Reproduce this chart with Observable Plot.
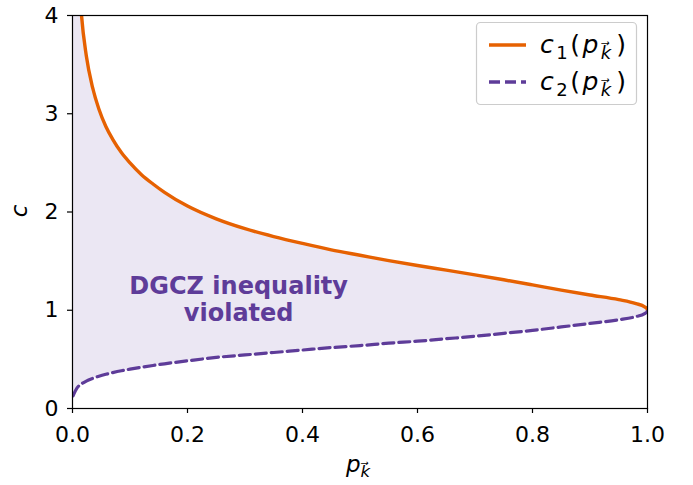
<!DOCTYPE html>
<html><head><meta charset="utf-8">
<script src="https://cdn.jsdelivr.net/npm/d3@7"></script>
<script src="https://cdn.jsdelivr.net/npm/@observablehq/plot@0.6"></script>
<style>
body{margin:0;background:#fff}
svg{font-family:"DejaVu Sans",sans-serif}
</style>
</head><body><div id="chart"></div>
<script>
// Values
const pValues  = [0.001, 0.008, 0.0157, 0.024, 0.035, 0.046, 0.058, 0.07, 0.085, 0.1, 0.12, 0.14, 0.16, 0.2, 0.25, 0.3, 0.35, 0.4, 0.45, 0.5, 0.55, 0.6, 0.65, 0.7, 0.75, 0.8, 0.85, 0.9, 0.95, 0.98, 0.995, 0.999, 1.0];
const c1Values = [8.0, 4.75, 4.0, 3.59, 3.265, 3.045, 2.87, 2.74, 2.605, 2.5, 2.38, 2.285, 2.2, 2.06, 1.93, 1.83, 1.75, 1.68, 1.615, 1.56, 1.505, 1.455, 1.408, 1.36, 1.31, 1.258, 1.205, 1.155, 1.108, 1.068, 1.035, 1.016, 1.0];
const c2Values = [0.13, 0.21, 0.25, 0.279, 0.306, 0.328, 0.348, 0.365, 0.384, 0.4, 0.42, 0.438, 0.455, 0.485, 0.52, 0.545, 0.57, 0.595, 0.62, 0.64, 0.665, 0.685, 0.71, 0.735, 0.765, 0.795, 0.83, 0.866, 0.903, 0.936, 0.966, 0.984, 1.0];
const xTicks = [0, 0.2, 0.4, 0.6, 0.8, 1.0];
const yTicks = [0, 1, 2, 3, 4];
const regionLabel = ["DGCZ inequality", "violated"];

const orange = "#e66101", purple = "#5e3c99";
const rows = pValues.map((p, i) => ({p, c1: c1Values[i], c2: c2Values[i]}));

const chart = Plot.plot({
  width: 693, height: 485,
  marginTop: 15, marginRight: 46, marginBottom: 77, marginLeft: 72,
  style: {fontFamily: "DejaVu Sans", fontSize: "22px", background: "white", color: "black"},
  x: {domain: [0, 1]},
  y: {domain: [0, 4]},
  marks: [
    Plot.areaY(rows, {x: "p", y1: "c2", y2: "c1", fill: purple, fillOpacity: 0.12, curve: "monotone-x", clip: true}),
    Plot.line(rows, {x: "p", y: "c1", stroke: orange, strokeWidth: 3.4, curve: "monotone-x", clip: true}),
    Plot.line(rows, {x: "p", y: "c2", stroke: purple, strokeWidth: 3.2, strokeDasharray: "11,5", curve: "monotone-x", clip: true}),
    Plot.text([regionLabel.join("\n")], {x: 0.289, y: 1.115, fill: purple, fontWeight: "bold", fontSize: 24, lineHeight: 1.13, textAnchor: "middle"}),
    Plot.axisX({ticks: xTicks, tickFormat: d3.format(".1f"), tickSize: 5, tickPadding: 13, label: null, strokeWidth: 1.2, fontSize: 22}),
    Plot.axisY({ticks: yTicks, tickFormat: d => String(d), tickSize: 5, tickPadding: 9, label: null, strokeWidth: 1.2, fontSize: 22}),
    Plot.frame({stroke: "black", strokeWidth: 1.2})
  ]
});
document.getElementById("chart").appendChild(chart);

// math-style labels and legend
const svg = d3.select(chart);
function mathLabel(sel, sub, spacing) {
  if (sub) {
    sel.append("tspan").attr("font-style", "italic").text("c");
    sel.append("tspan").attr("font-size", "72%").attr("dy", "0.32em").attr("dx", spacing).text(sub);
    sel.append("tspan").attr("dy", "-0.23em").attr("dx", spacing).text("(");
  }
  sel.append("tspan").attr("font-style", "italic").attr("dx", sub ? spacing : 0).text("p");
  sel.append("tspan").attr("font-style", "italic").attr("font-size", "72%").attr("dy", "0.32em").attr("dx", sub ? spacing : 0).text("k\u20D7");
  if (sub) sel.append("tspan").attr("dy", "-0.23em").attr("dx", spacing * 2).text(")");
}
// x label
const xl = svg.append("text").attr("x", 358).attr("y", 472).attr("text-anchor", "middle").attr("font-size", 23);
mathLabel(xl, null, 0);
// y label
svg.append("text").attr("transform", "translate(27,211) rotate(-90)").attr("text-anchor", "middle")
  .attr("font-size", 23).attr("font-style", "italic").text("c");

// legend
const lg = svg.append("g").attr("text-anchor", "start");
lg.append("rect").attr("x", 476.5).attr("y", 22.5).attr("width", 160).attr("height", 82).attr("rx", 4)
  .attr("fill", "white").attr("fill-opacity", 0.8).attr("stroke", "#cccccc").attr("stroke-width", 1.2);
const items = [{sub: "1", color: orange, dash: null, y: 45}, {sub: "2", color: purple, dash: "11,5", y: 82}];
items.forEach(it => {
  lg.append("line").attr("x1", 489).attr("x2", 526).attr("y1", it.y).attr("y2", it.y)
    .attr("stroke", it.color).attr("stroke-width", 3.4).attr("stroke-dasharray", it.dash);
  const t = lg.append("text").attr("x", 540).attr("y", it.y + 8).attr("font-size", 25).attr("text-anchor", "start");
  mathLabel(t, it.sub, 2.5);
});
</script>
</body></html>
